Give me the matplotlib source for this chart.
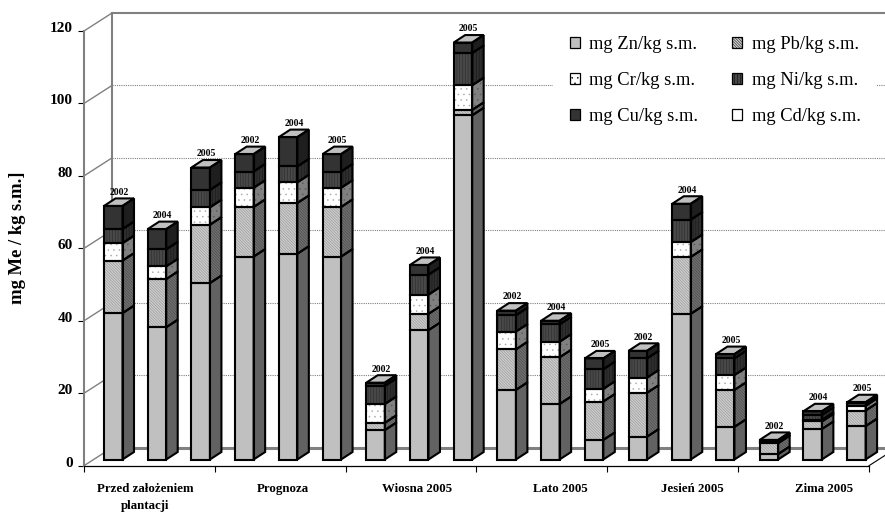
import numpy as np
import matplotlib
matplotlib.use('Agg')
import matplotlib.pyplot as plt
from matplotlib.patches import Polygon, Patch
from matplotlib.transforms import ScaledTranslation

plt.rcParams['font.family'] = ['Liberation Serif', 'DejaVu Serif']
plt.rcParams['hatch.linewidth'] = 0.35

groups = ['Przed założeniem\nplantacji', 'Prognoza', 'Wiosna 2005', 'Lato 2005', 'Jesień 2005', 'Zima 2005']
group_shift = [-4, 3, 6, 18, 20, 20]
years = ['2002', '2004', '2005'] * 6

zn = [40.4, 36.5, 48.7, 56.0, 56.8, 56.0, 8.1, 35.7, 95.0, 19.2, 15.3, 5.4, 6.3, 40.2, 9.0, 1.5, 8.4, 9.2]
pb = [14.5, 13.3, 16.1, 13.7, 14.0, 13.7, 2.0, 4.5, 1.5, 11.2, 12.9, 10.6, 12.1, 15.7, 10.2, 3.0, 2.1, 4.3]
cr = [4.8, 3.5, 4.8, 5.3, 5.7, 5.3, 5.2, 5.3, 6.8, 4.9, 4.3, 3.5, 4.2, 4.1, 4.1, 0.2, 0.4, 1.3]
ni = [3.9, 4.7, 4.8, 4.5, 4.4, 4.5, 5.0, 5.5, 8.9, 4.5, 4.8, 5.4, 5.3, 6.2, 4.6, 0.5, 1.4, 0.7]
cu = [6.4, 5.6, 6.2, 4.8, 8.1, 4.8, 0.9, 2.7, 2.9, 1.3, 1.0, 3.0, 2.1, 4.4, 1.2, 0.2, 1.0, 0.3]

names = ['mg Zn/kg s.m.', 'mg Pb/kg s.m.', 'mg Cr/kg s.m.', 'mg Ni/kg s.m.', 'mg Cu/kg s.m.', 'mg Cd/kg s.m.']
series = [zn, pb, cr, ni, cu]
# front colour, side colour, hatch colours, hatch
styles = [
    ('#c0c0c0', '#626262', None, None, None),
    ('#cccccc', '#707070', '#8c8c8c', '#404040', '\\' * 12),
    ('#ffffff', '#808080', '#a8a8a8', '#585858', '...'),
    ('#484848', '#2e2e2e', '#262626', '#141414', '|' * 6),
    ('#333333', '#1e1e1e', None, None, None),
]

W, H = 885, 513
fig = plt.figure(figsize=(W / 100, H / 100), dpi=100, facecolor='white')
ax = fig.add_axes([84 / W, 1 - 465.7 / H, 785 / W, 434.7 / H])
ax.set_xlim(0, 18)
ax.set_ylim(0, 120)

PX = 18 / 785
PY = 120 / 434.7
wall_x, wall_y = 28 * PX, 18 * PY
off_x, off_y = 20 * PX, 6.2 * PY
bw, dx, dy = 18.5 * PX, 11.5 * PX, 7.5 * PY

grey = '#808080'
# back wall, floor and connectors
for v in range(0, 121, 20):
    ax.plot([0, wall_x], [v, v + wall_y], color=grey, lw=1.0, clip_on=False, zorder=1)
for v in range(20, 120, 20):
    ax.plot([wall_x, 19], [v + wall_y] * 2, color=grey, lw=0.8, ls=(0, (1, 1)), clip_on=False, zorder=1)
ax.plot([wall_x, wall_x], [wall_y, 120 + wall_y], color=grey, lw=1.5, clip_on=False, zorder=1)
ax.plot([wall_x, 19], [120 + wall_y] * 2, color=grey, lw=1.5, clip_on=False, zorder=1)
ax.plot([wall_x, 19], [wall_y] * 2, color=grey, lw=2.2, clip_on=False, zorder=1)
ax.plot([18, 18 + wall_x], [0, wall_y], color='black', lw=0.8, clip_on=False, zorder=1)


def face(pts, fc, hc, hatch, z):
    if hatch:
        ax.add_patch(Polygon(pts, facecolor=fc, edgecolor=hc, hatch=hatch, lw=0, clip_on=False, zorder=z))
    else:
        ax.add_patch(Polygon(pts, facecolor=fc, edgecolor='none', clip_on=False, zorder=z))
    ax.add_patch(Polygon(pts, facecolor='none', edgecolor='black', lw=1.5, clip_on=False, zorder=z + 0.1))


for i in range(18):
    x0 = i + off_x + i * 0.1 * PX
    x1 = x0 + bw
    base = off_y
    for vals, st in zip(series, styles):
        top = base + vals[i]
        face([(x0, base), (x1, base), (x1, top), (x0, top)], st[0], st[2], st[4], 3)
        face([(x1, base), (x1 + dx, base + dy), (x1 + dx, top + dy), (x1, top)], st[1], st[3], st[4], 3)
        base = top
    face([(x0, base), (x1, base), (x1 + dx, base + dy), (x0 + dx, base + dy)], '#c0c0c0', None, None, 3)
    ax.annotate(years[i], (x0 + bw / 2 + dx / 2, base + dy), xytext=(0, 1.2), textcoords='offset points',
                ha='center', va='bottom', fontsize=7, fontweight='bold', zorder=6, annotation_clip=False)

# axes
for s in ['top', 'right']:
    ax.spines[s].set_visible(False)
ax.spines['left'].set_color(grey)
ax.spines['left'].set_linewidth(1.5)
ax.spines['bottom'].set_linewidth(0.9)
ax.set_yticks(range(0, 121, 20))
ax.set_xticks(range(0, 19, 3))
ax.set_xticklabels([])
ax.tick_params(axis='y', length=4.5, width=0.8, pad=3.5, labelsize=11)
ax.tick_params(axis='x', length=4.5, width=0.8)
shift = ScaledTranslation(0, 3 / 72, fig.dpi_scale_trans)
for lab in ax.get_yticklabels():
    lab.set_fontweight('bold')
    lab.set_transform(lab.get_transform() + shift)

for i, g in enumerate(groups):
    ax.annotate(g, (3 * i + 1.5, 0), xytext=(group_shift[i] * 0.72, -12.5), textcoords='offset points',
                ha='center', va='top', fontsize=9.3, fontweight='bold', linespacing=1.5, annotation_clip=False)

fig.text(18 / W, 1 - 238 / H, 'mg Me / kg s.m.]', rotation=90, ha='center', va='center',
         fontsize=13.4, fontweight='bold')

# legend
handles = []
for st in styles:
    handles.append(Patch(facecolor=st[0], edgecolor='black', hatch=st[4], lw=0.9))
handles.append(Patch(facecolor='white', edgecolor='black', lw=0.9))
order = [0, 2, 4, 1, 3, 5]
leg = ax.legend([handles[k] for k in order], [names[k] for k in order], ncol=2, loc='upper left',
                bbox_to_anchor=(553 / W, 1 - 19 / H), bbox_transform=fig.transFigure,
                fontsize=13.3, frameon=True, framealpha=1, edgecolor='none', facecolor='white', fancybox=False,
                handlelength=0.55, handleheight=0.55, handletextpad=0.5, labelspacing=1.03,
                columnspacing=1.85, borderpad=0.9, borderaxespad=0)
leg.set_zorder(2)

fig.savefig('out.png', dpi=100)
